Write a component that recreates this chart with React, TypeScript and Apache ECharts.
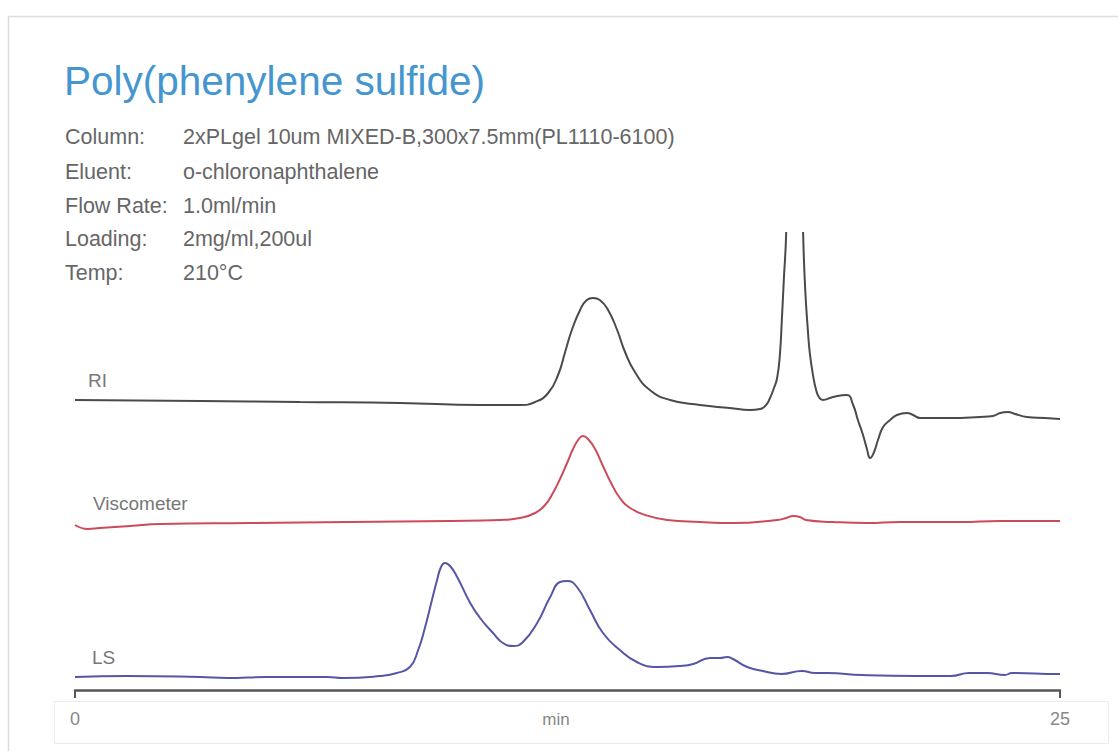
import React, { useEffect, useRef } from "react";
import * as echarts from "echarts";

// Retention time axis (min)
const xTicks = [0, 25];
const xName = "min";

// RI trace (time in min, response in arbitrary units above the axis)
const riTime = [0.0, 3.17, 5.71, 8.25, 10.28, 11.29, 11.68, 12.01, 12.26, 12.44, 12.61, 12.82, 12.99, 13.15, 13.32, 13.53, 13.76, 13.96, 14.21, 14.59, 15.1, 15.86, 16.62, 17.13, 17.39, 17.54, 17.64, 17.74, 17.82, 17.89, 17.94, 17.99, 18.05, 18.25, 18.48, 18.53, 18.6, 18.65, 18.73, 18.81, 18.88, 18.98, 19.24, 19.59, 19.75, 19.87, 20.0, 20.1, 20.18, 20.28, 20.38, 20.51, 20.69, 20.86, 21.12, 21.27, 21.45, 22.21, 22.97, 23.3, 23.48, 23.68, 23.86, 24.16, 24.62, 25.0];
const riSignal = [290, 289, 288, 287, 285, 285, 288, 297, 315, 338, 360, 380, 390, 392, 390, 380, 360, 338, 318, 300, 290, 285, 282, 280, 281, 285, 292, 302, 312, 335, 370, 410, 457, 790, 457, 403, 360, 337, 315, 300, 293, 290, 293, 295, 285, 270, 255, 241, 232, 238, 250, 263, 270, 275, 277, 275, 272, 272, 273, 274, 277, 278, 276, 273, 272, 271];

// Viscometer trace
const viscoTime = [0.0, 0.33, 0.63, 1.4, 2.16, 4.44, 6.98, 9.52, 10.79, 11.29, 11.68, 11.93, 12.13, 12.31, 12.49, 12.64, 12.77, 12.89, 13.02, 13.2, 13.4, 13.58, 13.83, 14.09, 14.47, 15.03, 15.86, 16.7, 17.82, 18.05, 18.22, 18.4, 18.55, 19.24, 20.1, 20.94, 22.46, 23.48, 25.0];
const viscoSignal = [165, 161, 162, 164, 166, 167, 168, 169, 170, 172, 177, 185, 197, 211, 227, 241, 250, 254, 251, 241, 224, 209, 192, 182, 175, 170, 168, 167, 170, 172, 174, 173, 170, 168, 167, 168, 168, 169, 169];

// LS trace
const lsTime = [0.0, 1.32, 3.17, 3.86, 4.87, 6.4, 6.8, 7.74, 8.17, 8.5, 8.71, 8.88, 9.06, 9.19, 9.29, 9.39, 9.52, 9.7, 10.03, 10.28, 10.61, 10.86, 11.12, 11.37, 11.73, 12.06, 12.31, 12.49, 12.74, 13.07, 13.4, 13.83, 14.26, 14.77, 15.36, 15.69, 16.12, 16.37, 16.55, 16.7, 17.06, 17.46, 17.92, 18.45, 18.78, 19.09, 19.97, 21.35, 22.23, 22.69, 23.15, 23.6, 23.78, 24.95, 25.0];
const lsSignal = [13, 14, 13, 12, 13, 13, 12, 14, 17, 23, 40, 62, 90, 110, 123, 127, 124, 113, 87, 72, 57, 47, 44, 48, 67, 93, 108, 109, 103, 80, 57, 40, 28, 23, 24, 26, 32, 32, 33, 31, 23, 19, 16, 19, 17, 17, 15, 14, 14, 17, 17, 15, 17, 16, 16];

const traceNames = ["RI", "Viscometer", "LS"];
const traceColors = ["#4a4a4a", "#cc4b5a", "#5556a6"];

const titleText = "Poly(phenylene sulfide)";
const infoLabels = ["Column:", "Eluent:", "Flow Rate:", "Loading:", "Temp:"];
const infoValues = [
  "2xPLgel 10um MIXED-B,300x7.5mm(PL1110-6100)",
  "o-chloronaphthalene",
  "1.0ml/min",
  "2mg/ml,200ul",
  "210°C",
];

const pair = (t: number[], v: number[]) => t.map((x, i) => [x, v[i]]);

export default function App() {
  const ref = useRef<HTMLDivElement>(null);
  useEffect(() => {
    if (!ref.current) return;
    const chart = echarts.init(ref.current, null, { renderer: "svg" });
    const font = "'Liberation Sans', Arial, sans-serif";
    const infoRowsY = [137, 172, 206, 239, 273];
    const labelPos = [
      { x: 88, y: 380 },
      { x: 93, y: 503 },
      { x: 92, y: 657 },
    ];
    const graphics: any[] = [
      {
        type: "rect",
        silent: true,
        z: -10,
        shape: { x: 8.5, y: 16.5, width: 1200, height: 800 },
        style: { fill: "#ffffff", stroke: "#dcdcdc", lineWidth: 1.5 },
      },
      {
        type: "rect",
        silent: true,
        z: -9,
        shape: { x: 54.5, y: 701.5, width: 1054, height: 42 },
        style: { fill: "none", stroke: "#ececec", lineWidth: 1 },
      },
      {
        type: "text",
        left: 64,
        top: 60,
        style: {
          text: titleText,
          fill: "#4596cf",
          font: `40.5px ${font}`,
        },
      },
      {
        type: "text",
        x: 556,
        y: 719,
        style: {
          text: xName,
          fill: "#888",
          font: `17px ${font}`,
          textAlign: "center",
          textVerticalAlign: "middle",
        },
      },
    ];
    infoLabels.forEach((lab, i) => {
      graphics.push({
        type: "text",
        x: 65,
        y: infoRowsY[i],
        style: { text: lab, fill: "#666", font: `21.5px ${font}`, textVerticalAlign: "middle" },
      });
      graphics.push({
        type: "text",
        x: 183,
        y: infoRowsY[i],
        style: { text: infoValues[i], fill: "#666", font: `21.5px ${font}`, textVerticalAlign: "middle" },
      });
    });
    traceNames.forEach((n, i) => {
      graphics.push({
        type: "text",
        x: labelPos[i].x,
        y: labelPos[i].y,
        style: { text: n, fill: "#777", font: `19px ${font}`, textVerticalAlign: "middle" },
      });
    });

    const datasets = [pair(riTime, riSignal), pair(viscoTime, viscoSignal), pair(lsTime, lsSignal)];

    chart.setOption({
      animation: false,
      backgroundColor: "#ffffff",
      grid: { left: 75, right: 58, top: 233, bottom: 61, containLabel: false },
      xAxis: {
        type: "value",
        min: xTicks[0],
        max: xTicks[1],
        interval: xTicks[1] - xTicks[0],
        axisLine: { onZero: false, lineStyle: { color: "#555", width: 2.5 } },
        axisTick: { show: true, length: 8, lineStyle: { color: "#555", width: 2 } },
        axisLabel: { color: "#888", fontSize: 18, fontFamily: font, margin: 20 },
        splitLine: { show: false },
      },
      yAxis: { type: "value", min: 0, max: 457, show: false },
      series: datasets.map((d, i) => ({
        type: "line",
        name: traceNames[i],
        data: d,
        showSymbol: false,
        smooth: 0.5,
        clip: true,
        lineStyle: { color: traceColors[i], width: 2 },
      })),
      graphic: graphics,
    });
    return () => chart.dispose();
  }, []);
  return (
    <div
      ref={ref}
      style={{ position: "absolute", left: 0, top: 0, width: 1118, height: 751 }}
    />
  );
}
